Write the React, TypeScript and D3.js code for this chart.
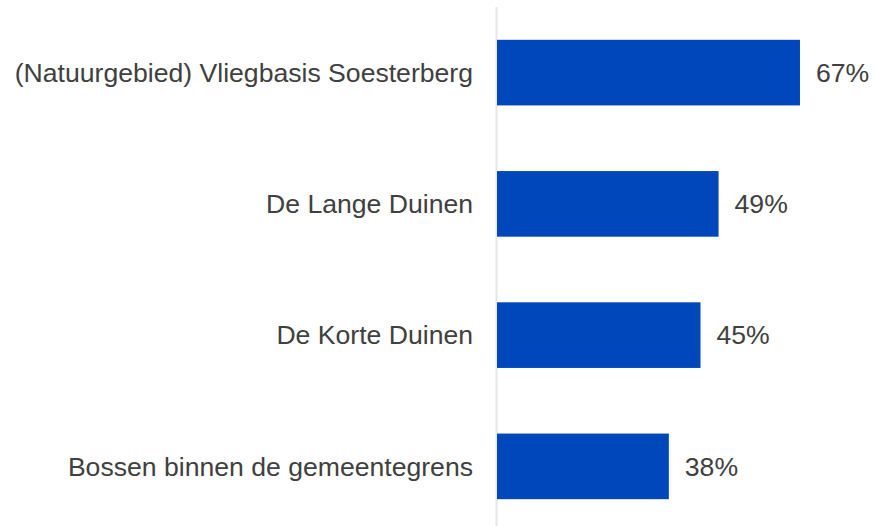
import React from "react";
import * as d3 from "d3";

const categories = [
  "(Natuurgebied) Vliegbasis Soesterberg",
  "De Lange Duinen",
  "De Korte Duinen",
  "Bossen binnen de gemeentegrens",
];
const values = [67, 49, 45, 38];

const W = 875;
const H = 526;
const x0 = 497;

export default function App() {
  const x = d3.scaleLinear().domain([0, 100]).range([x0, x0 + 452.2]);
  const y = d3
    .scaleBand<string>()
    .domain(categories)
    .range([7, 532])
    .paddingInner(0.5)
    .paddingOuter(0.25);
  const font = "'Liberation Sans', Arial, sans-serif";
  return (
    <svg
      width={W}
      height={H}
      style={{ position: "absolute", left: 0, top: 0, background: "#fff" }}
    >
      <line x1={x0 - 0.5} x2={x0 - 0.5} y1={7} y2={526} stroke="#e6e6e6" strokeWidth={2} />
      {categories.map((c, i) => {
        const yy = y(c)!;
        const bw = y.bandwidth();
        return (
          <g key={c}>
            <rect x={x0} y={yy} width={x(values[i]) - x0} height={bw} fill="#0047BB" />
            <text
              x={x0 - 24}
              y={yy + bw / 2}
              dy="0.35em"
              textAnchor="end"
              fontFamily={font}
              fontSize={26.6}
              fill="#404040"
            >
              {c}
            </text>
            <text
              x={x(values[i]) + 16}
              y={yy + bw / 2}
              dy="0.35em"
              fontFamily={font}
              fontSize={26.6}
              fill="#404040"
            >
              {values[i]}%
            </text>
          </g>
        );
      })}
    </svg>
  );
}
